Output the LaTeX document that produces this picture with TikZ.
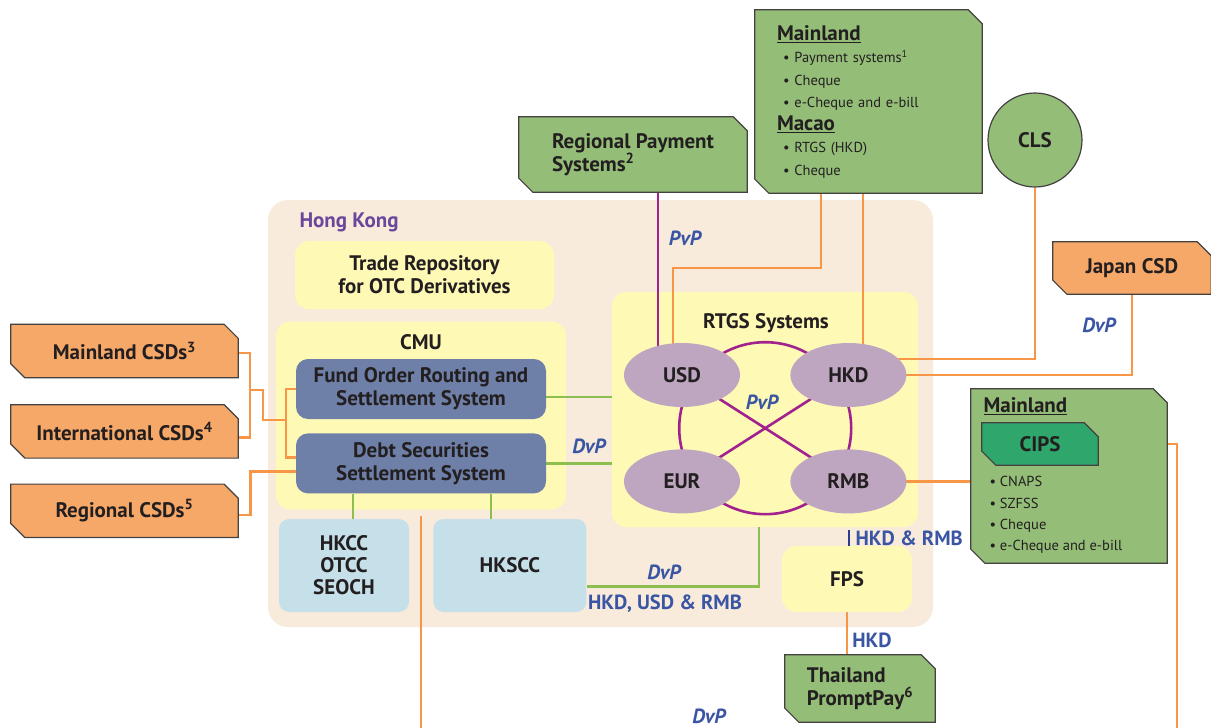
\documentclass[tikz,border=0pt]{standalone}
\usepackage{fontspec}
\setmainfont{PT Sans}
\usepackage{tikz}
\usetikzlibrary{positioning,calc,shapes.geometric,backgrounds}
\pgfdeclarelayer{lines}
\pgfdeclarelayer{tags}
\pgfsetlayers{background,lines,tags,main}
\definecolor{ink}{HTML}{231F20}
\definecolor{hkbg}{HTML}{F8EBDC}
\definecolor{pale}{HTML}{FFF9B6}
\definecolor{slate}{HTML}{6E7FA8}
\definecolor{sky}{HTML}{C6E0EA}
\definecolor{lilac}{HTML}{BEA6C1}
\definecolor{leaf}{HTML}{94BD78}
\definecolor{jade}{HTML}{2FA66B}
\definecolor{apricot}{HTML}{F6A868}
\definecolor{corange}{HTML}{F79646}
\definecolor{cpurple}{HTML}{A1228F}
\definecolor{cgreen}{HTML}{8CBF50}
\definecolor{cblue}{HTML}{3A55A4}
\definecolor{navy}{HTML}{2E3A8C}
\definecolor{hkpurple}{HTML}{6B479C}
\newcommand{\lblfont}{\fontsize{21}{23}\selectfont\bfseries}
\newcommand{\itemfont}{\fontsize{14.5}{22.5}\selectfont}
% cut-corner outline behind a named node
\newcommand{\tagshape}[2]{%
  \filldraw[fill=#2,draw=ink!85,line width=1.2pt] (#1.north west) -- ([xshift=-14pt]#1.north east)
    -- ([yshift=-14pt]#1.north east) -- (#1.south east) -- ([xshift=14pt]#1.south west)
    -- ([yshift=14pt]#1.south west) -- cycle;}
\tikzset{
  region/.style={rounded corners=20pt, draw=none, fill=hkbg, inner sep=0pt},
  panel/.style={rounded corners=14pt, draw=none, fill=pale, inner sep=0pt, text=ink, font=\lblfont, align=center},
  sysbox/.style={rounded corners=12pt, draw=none, fill=slate, inner sep=0pt, text=ink, font=\lblfont, align=center},
  chbox/.style={rounded corners=10pt, draw=none, fill=sky, inner sep=0pt, text=ink, font=\fontsize{21}{22}\selectfont\bfseries, align=center},
  ccy/.style={ellipse, fill=lilac, draw=none, minimum width=116pt, minimum height=64pt, inner sep=0pt, text=ink, font=\lblfont},
  tag/.style={rectangle, draw=none, inner sep=0pt, text=ink, font=\lblfont},
  lab/.style={text=cblue, font=\fontsize{20.5}{22}\selectfont\bfseries\itshape},
  labn/.style={text=cblue, font=\fontsize{20.5}{22}\selectfont\bfseries},
  oline/.style={draw=corange, line width=2.6pt},
  pline/.style={draw=cpurple, line width=2.6pt},
  gline/.style={draw=cgreen, line width=2.6pt},
  bline/.style={draw=navy, line width=2pt},
}

\begin{document}
\begin{tikzpicture}[x=1pt,y=-1pt,node distance=26pt]
  \useasboundingbox (0,0) rectangle (1211,728);
  % Hong Kong
  \begin{scope}[on background layer]
    \node[region,minimum width=665pt,minimum height=427pt] (hk) at (600.5,413.5) {};
    \node[panel,minimum width=290pt,minimum height=188pt] (cmu) at (421,415.5) {};
    \node[panel,minimum width=306pt,minimum height=235pt] (rtgs) at (765,409.5) {};
  \end{scope}
  \node[font=\lblfont,text=hkpurple,anchor=west] (hklbl) at (296,222) {Hong Kong};
  \node[font=\lblfont,text=ink] (cmulbl) at (421,342) {CMU};
  \node[font=\lblfont,text=ink] (rtgslbl) at (766,323) {RTGS Systems};
  \node[panel,minimum width=259pt,minimum height=68pt] (trep) at (424.5,275) {Trade Repository\\for OTC Derivatives};
  % CMU
  \node[sysbox,minimum width=250pt,minimum height=60pt] (fors) at (421,389) {Fund Order Routing and\\Settlement System};
  \node[sysbox,minimum width=250pt,minimum height=60pt,below=14pt of fors] (dss) {Debt Securities\\Settlement System};
  \node[chbox,minimum width=130pt,minimum height=93pt] (hkcc) at (344,565.5) {HKCC\\OTCC\\SEOCH};
  \node[chbox,minimum width=153pt,minimum height=93pt,right=24pt of hkcc] (hkscc) {HKSCC};
  % RTGS
  \node[ccy] (usd) at (682,375) {USD};
  \node[ccy,right=50pt of usd] (hkd) {HKD};
  \node[ccy,below=42pt of usd] (eur) {EUR};
  \node[ccy,right=50pt of eur] (rmb) {RMB};
  \node[panel,minimum width=130pt,minimum height=66pt] (fps) at (847,579) {FPS};
  % outside
  \node[tag,minimum width=228pt,minimum height=75pt,align=left] (rps) at (633,154.5) {Regional Payment\\Systems\textsuperscript{2}};
  \node[tag,minimum width=227pt,minimum height=183pt,text width=183pt,align=left,font=\itemfont] (mlt) at (868.5,101.5) {%
    {\lblfont\underline{Mainland}}\\
    \hspace*{6pt}\textbullet\ Payment systems\textsuperscript{1}\\
    \hspace*{6pt}\textbullet\ Cheque\\
    \hspace*{6pt}\textbullet\ e-Cheque and e-bill\\
    {\lblfont\underline{Macao}}\\
    \hspace*{6pt}\textbullet\ RTGS (HKD)\\
    \hspace*{6pt}\textbullet\ Cheque};
  \node[circle,fill=leaf,draw=ink!85,line width=1.2pt,minimum size=94pt,inner sep=0pt,text=ink,font=\lblfont] (cls) at (1035,140) {CLS};
  \node[tag,minimum width=158pt,minimum height=52pt] (jcsd) at (1132,268) {Japan CSD};
  \node[tag,minimum width=227pt,minimum height=53pt] (mcsd) at (124.5,351) {Mainland CSDs\textsuperscript{3}};
  \node[tag,minimum width=227pt,minimum height=53pt,below=27pt of mcsd] (icsd) {International CSDs\textsuperscript{4}};
  \node[tag,minimum width=227pt,minimum height=53pt,below=of icsd] (rcsd) {Regional CSDs\textsuperscript{5}};
  \node[tag,minimum width=196pt,minimum height=174pt] (mlr) at (1069,476) {};
  \node[font=\lblfont,text=ink,anchor=west] (mlrhd) at (980,406) {\underline{Mainland}};
  \node[tag,minimum width=116pt,minimum height=42pt] (cips) at (1040,444) {CIPS};
  \node[font=\fontsize{14.5}{21.3}\selectfont,text=ink,anchor=west,align=left] (mlrlist) at (986,515) {%
    \textbullet\ CNAPS\\\textbullet\ SZFSS\\\textbullet\ Cheque\\\textbullet\ e-Cheque and e-bill};
  \node[tag,minimum width=150pt,minimum height=67pt,align=left] (tpp) at (860,688.5) {Thailand\\PromptPay\textsuperscript{6}};
  \begin{pgfonlayer}{tags}
    \tagshape{rps}{leaf}
    \tagshape{mlt}{leaf}
    \tagshape{jcsd}{apricot}
    \tagshape{mcsd}{apricot}
    \tagshape{icsd}{apricot}
    \tagshape{rcsd}{apricot}
    \tagshape{mlr}{leaf}
    \tagshape{cips}{jade}
    \tagshape{tpp}{leaf}
  \end{pgfonlayer}
  % connectors
  \coordinate (usdbend) at (673,268);
  \coordinate (csdj) at (250,390);
  \coordinate (cmuj) at (286,420);
  \coordinate (cipsend) at (1177,728);
  \coordinate (cmuend) at (421,728);
  \begin{pgfonlayer}{lines}
    \draw[pline] ($(usd)!0.5!(rmb)$) circle (86pt);
    \draw[pline] (usd.center) -- (rmb.center);
    \draw[pline] (hkd.center) -- (eur.center);
    \draw[pline] ([xshift=25pt]rps.south) -- ([xshift=25pt]rps.south |- usd.center);
    \draw[oline] ([xshift=-47.5pt]mlt.south) |- (usdbend) -- (usdbend |- usd.center);
    \draw[oline] ([xshift=-5.5pt]mlt.south) -- ([xshift=-5.5pt]mlt.south |- hkd.center);
    \draw[oline] (cls.south) |- ([yshift=16pt]hkd.center);
    \draw[oline] (jcsd.south) |- (hkd.center);
    \draw[oline] (rmb.center) -- (rmb.center -| mlr.west);
    \draw[oline] (cips.east) -| (cipsend);
    \draw[oline] ([yshift=-6pt]cmu.south) -- (cmuend);
    \draw[oline] ([yshift=-2pt]mcsd.east) -| (csdj) |- ([yshift=-6pt]icsd.east);
    \draw[oline] (csdj) -- ++(13,0) |- (cmuj);
    \draw[oline] (fors.west) -| (cmuj) |- ([yshift=6pt]dss.west);
    \draw[oline] ([yshift=-4pt]rcsd.east) -- ++(12,0) |- ([yshift=-8pt]dss.west);
    \draw[gline] ([yshift=-8pt]fors.east) -- ([yshift=-8pt]fors.east -| rtgs.west);
    \draw[gline] (dss.east) -- (dss.east -| rtgs.west);
    \draw[gline] ([xshift=9pt]hkcc.north) -- ([xshift=9pt]hkcc.north |- dss.south);
    \draw[gline] ([xshift=-19pt]hkscc.north) -- ([xshift=-19pt]hkscc.north |- dss.south);
    \draw[gline] ([yshift=-21pt]hkscc.east) -| ([xshift=-6pt]rtgs.south);
    \draw[bline] ([xshift=2pt]fps.north) -- ([xshift=2pt,yshift=-3pt]fps.north |- rtgs.south);
    \draw[oline] (fps.south) -- (fps.south |- tpp.north);
  \end{pgfonlayer}
  % labels
  \node[lab] (pvpa) at (685,238) {PvP};
  \node[lab] (pvpb) at (762,402) {PvP};
  \node[lab] (dvpa) at (589,446) {DvP};
  \node[lab] (dvpb) at (1099,325) {DvP};
  \node[lab] (dvpc) at (664,572) {DvP};
  \node[lab] (dvpd) at (709,716) {DvP};
  \node[labn] (ccya) at (665,604) {HKD, USD \& RMB};
  \node[labn,anchor=west] (ccyb) at (852,538) {HKD \& RMB};
  \node[labn] (ccyc) at (872,640) {HKD};
\end{tikzpicture}
\end{document}
